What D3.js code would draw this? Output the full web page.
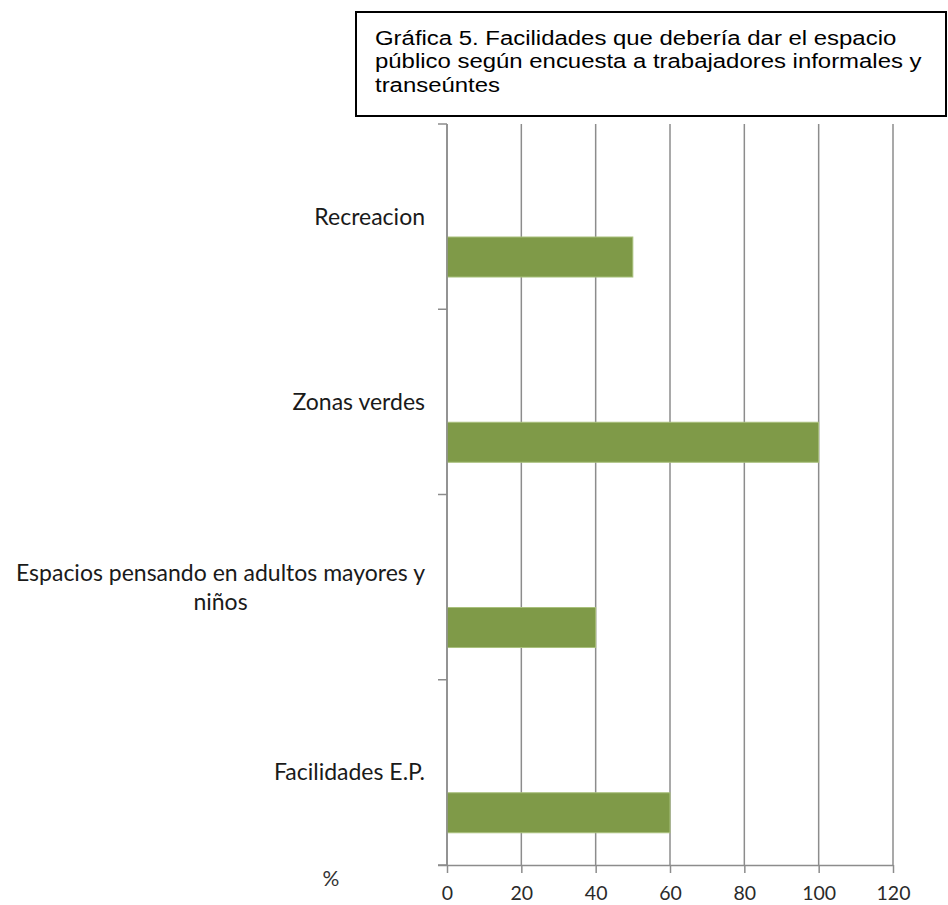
<!DOCTYPE html>
<html lang="es">
<head>
<meta charset="UTF-8">
<script src="https://d3js.org/d3.v7.min.js"></script>
<style>
body { margin: 0; background: #fff; }
</style>
</head>
<body>
<div class="canva"></div>
<script>
// data
const categories = ["Recreacion", "Zonas verdes", "Espacios pensando en adultos mayores y niños", "Facilidades E.P."];
const values = [50, 100, 40, 60];
const xTicks = [0, 20, 40, 60, 80, 100, 120];
const titleLines = ["Gráfica 5. Facilidades que debería dar el espacio",
                    "público según encuesta a trabajadores informales y",
                    "transeúntes"];

const width = 948, height = 905;
const labelFont = "Lato, Carlito, Calibri, sans-serif";

const svg = d3.select(".canva").append("svg")
  .attr("width", width)
  .attr("height", height);

const x = d3.scaleLinear().domain([0, 120]).range([447, 893]);
const y = d3.scaleBand().domain(categories).range([124, 865]);

// vertical grid lines
svg.append("g")
  .selectAll("line")
  .data(xTicks)
  .join("line")
  .attr("x1", d => x(d)).attr("x2", d => x(d))
  .attr("y1", 124).attr("y2", 865)
  .attr("stroke", "#8c8c8c")
  .attr("stroke-width", 1.5);

// bars
svg.append("g")
  .selectAll("rect")
  .data(values)
  .join("rect")
  .attr("x", x(0))
  .attr("y", (d, i) => y(categories[i]) + y.bandwidth() * 0.61)
  .attr("width", d => x(d) - x(0))
  .attr("height", y.bandwidth() * 0.216)
  .attr("fill", "#7f9a48")
  .attr("stroke", "#a9c07c")
  .attr("stroke-width", 1);

// x axis
const xAxis = svg.append("g")
  .attr("transform", "translate(0,865)")
  .call(d3.axisBottom(x).tickValues(xTicks).tickSize(8).tickPadding(13).tickSizeOuter(0));
xAxis.select(".domain").attr("d", `M${x(0) - 9},0.5H${x(120)}`).attr("stroke", "#8c8c8c").attr("stroke-width", 1.5);
xAxis.selectAll(".tick line").attr("stroke", "#8c8c8c").attr("stroke-width", 1.5);
xAxis.selectAll(".tick text")
  .attr("font-family", labelFont)
  .attr("font-size", 19.5)
  .attr("fill", "#2a2a2a");

// y axis: ticks at the band boundaries
const yBounds = categories.map(c => y(c)).concat([y.range()[1]]);
svg.append("line")
  .attr("x1", x(0)).attr("x2", x(0))
  .attr("y1", 124).attr("y2", 865)
  .attr("stroke", "#8c8c8c").attr("stroke-width", 1.5);
svg.append("g")
  .selectAll("line")
  .data(yBounds)
  .join("line")
  .attr("x1", x(0) - 9).attr("x2", x(0))
  .attr("y1", d => d).attr("y2", d => d)
  .attr("stroke", "#8c8c8c").attr("stroke-width", 1.5);

// category labels, wrapped and centered on the band
const labelRight = 425, maxLabelW = 420, lineH = 29;
const labels = svg.append("g");
categories.forEach(function(cat) {
  const t = labels.append("text")
    .attr("font-family", labelFont)
    .attr("font-size", 23)
    .attr("fill", "#1a1a1a")
    .attr("text-anchor", "middle");
  const words = cat.split(" ");
  let lines = [], cur = "";
  const probe = t.append("tspan");
  words.forEach(function(w) {
    const test = cur ? cur + " " + w : w;
    probe.text(test);
    if (probe.node().getComputedTextLength() > maxLabelW && cur) {
      lines.push(cur);
      cur = w;
    } else {
      cur = test;
    }
  });
  lines.push(cur);
  let maxW = 0;
  lines.forEach(function(l) {
    probe.text(l);
    maxW = Math.max(maxW, probe.node().getComputedTextLength());
  });
  probe.remove();
  const cx = labelRight - maxW / 2;
  const cy = y(cat) + y.bandwidth() / 2;
  lines.forEach(function(l, i) {
    t.append("tspan")
      .attr("x", cx)
      .attr("y", cy + 8 + (i - (lines.length - 1) / 2) * lineH)
      .text(l);
  });
});

// "%" label
svg.append("text")
  .attr("x", 331)
  .attr("y", 886)
  .attr("text-anchor", "middle")
  .attr("font-family", labelFont)
  .attr("font-size", 21)
  .attr("fill", "#333")
  .text("%");

// title box
svg.append("rect")
  .attr("x", 356).attr("y", 12)
  .attr("width", 590).attr("height", 104)
  .attr("fill", "#fff")
  .attr("stroke", "#000")
  .attr("stroke-width", 2);

// the title text in the picture is a bit stretched sideways
svg.append("text")
  .attr("transform", "translate(375,0) scale(1.14,1)")
  .attr("font-family", "'Liberation Sans', Arial, sans-serif")
  .attr("font-size", 21)
  .attr("fill", "#000")
  .selectAll("tspan")
  .data(titleLines)
  .join("tspan")
  .attr("x", 0)
  .attr("y", (d, i) => 45 + i * 23.5)
  .text(d => d);
</script>
</body>
</html>
